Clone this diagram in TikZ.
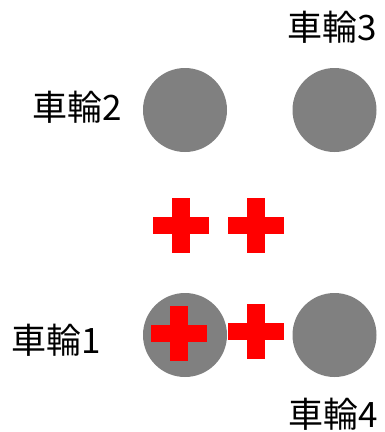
\documentclass[tikz,border=0pt]{standalone}
\usepackage{fontspec}
\newfontfamily\cjk{Noto Sans CJK JP}
\begin{document}
\begin{tikzpicture}[x=1pt,y=-1pt,
  wheel/.style={circle,fill=black!50,minimum size=84pt,inner sep=0pt},
  lbl/.style={font=\cjk\fontsize{35}{40}\selectfont,inner sep=0pt,anchor=center}]
\useasboundingbox[fill=white] (0,0) rectangle (385,432);
\node[wheel] (w2) at (185,110) {};
\node[wheel] (w3) at (334.5,110) {};
\node[wheel] (w1) at (185,335) {};
\node[wheel] (w4) at (334.5,335) {};
\newcommand{\redcross}[2]{%
  \fill[red] (#1-28,#2-8.5) rectangle (#1+28,#2+8.5);
  \fill[red] (#1-9,#2-27.5) rectangle (#1+9,#2+27.5);}
\redcross{181}{225.5}
\redcross{255.5}{225.5}
\redcross{179}{333.5}
\redcross{255.5}{331.5}
\node[lbl] (l3) at (332,27) {車輪3};
\node[lbl] (l2) at (77,107) {車輪2};
\node[lbl] (l1) at (56,340) {車輪1};
\node[lbl] (l4) at (333,414) {車輪4};
\end{tikzpicture}
\end{document}
